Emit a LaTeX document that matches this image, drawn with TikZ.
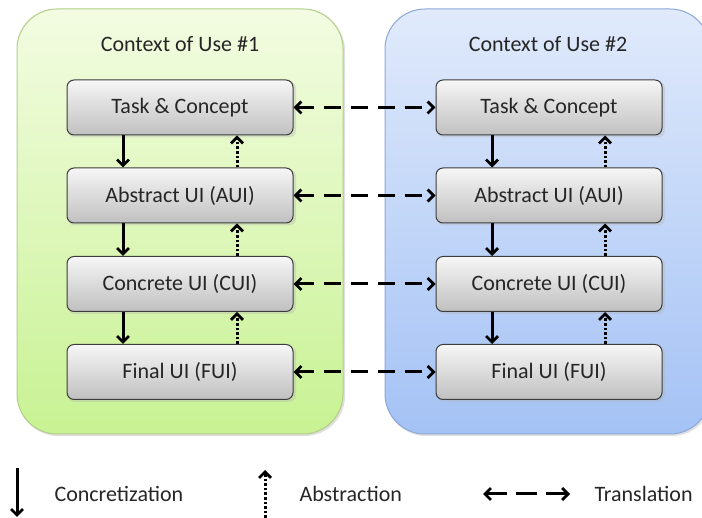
\documentclass[tikz,border=0pt]{standalone}
\usepackage{fontspec}
\setmainfont{Carlito}
\usetikzlibrary{arrows.meta}
\definecolor{gtop}{HTML}{F3FCE2}
\definecolor{gbot}{HTML}{C8F293}
\definecolor{gline}{HTML}{B3CD88}
\definecolor{btop}{HTML}{E0EAFB}
\definecolor{bbot}{HTML}{A4C2F5}
\definecolor{bline}{HTML}{8CA8D8}
\definecolor{boxtop}{HTML}{F6F6F6}
\definecolor{boxbot}{HTML}{C0C0C0}
\definecolor{boxline}{HTML}{3C3C3C}
\tikzset{
  layerbox/.style={draw=boxline, line width=1pt, rounded corners=7pt,
    top color=boxtop, bottom color=boxbot, minimum width=226pt, minimum height=55pt,
    inner sep=0pt, font=\fontsize{22}{26}\selectfont, text=black!85},
  title/.style={font=\fontsize{22}{26}\selectfont, text=black!85},
  legtext/.style={font=\fontsize{22}{26}\selectfont, text=black!85, anchor=west},
  barb/.tip={Straight Barb[length=6pt,width=12pt,line width=2.8pt]},
  conc/.style={-barb, line width=3pt},
  abst/.style={-barb, line width=3pt, dash pattern=on 2.6pt off 2pt},
  trans/.style={barb-barb, line width=3pt, dash pattern=on 17pt off 10pt},
  shadowbox/.style={fill=black!30, rounded corners=7pt}
}
\begin{document}
\begin{tikzpicture}[x=1pt,y=-1pt]
\useasboundingbox (0,0) rectangle (702,518);
% containers
\fill[black!25, opacity=0.5, rounded corners=40pt] (18,11) rectangle (345,436);
\path[top color=gtop, bottom color=gbot, draw=gline, line width=1pt, rounded corners=40pt] (17,9) rectangle (343,434);
\fill[black!25, opacity=0.5, rounded corners=40pt] (386,11) rectangle (712,436);
\path[top color=btop, bottom color=bbot, draw=bline, line width=1pt, rounded corners=40pt] (385,9) rectangle (710,434);
\node[title] (t1) at (180,44) {Context of Use \#1};
\node[title] (t2) at (548,44) {Context of Use \#2};
% shadows
\foreach \y in {107.5,195.5,284,372}{
  \fill[shadowbox, opacity=0.35] (68,\y-26) rectangle (296,\y+30);
  \fill[shadowbox, opacity=0.35] (437,\y-26) rectangle (665,\y+30);
}
% boxes
\node[layerbox] (a1) at (180,107.5) {Task \& Concept};
\node[layerbox] (b1) at (180,195.5) {Abstract UI (AUI)};
\node[layerbox] (c1) at (180,284) {Concrete UI (CUI)};
\node[layerbox] (d1) at (180,372) {Final UI (FUI)};
\node[layerbox] (a2) at (549,107.5) {Task \& Concept};
\node[layerbox] (b2) at (549,195.5) {Abstract UI (AUI)};
\node[layerbox] (c2) at (549,284) {Concrete UI (CUI)};
\node[layerbox] (d2) at (549,372) {Final UI (FUI)};
% concretization / abstraction
\foreach \p/\q in {a/b,b/c,c/d}{
  \draw[conc] (\p1.south -| 123,0) -- (\q1.north -| 123,0);
  \draw[abst] (\q1.north -| 237,0) -- (\p1.south -| 237,0);
  \draw[conc] (\p2.south -| 492,0) -- (\q2.north -| 492,0);
  \draw[abst] (\q2.north -| 605,0) -- (\p2.south -| 605,0);
}
% translation
\foreach \p in {a,b,c,d}{
  \draw[trans] (\p1.east) -- (\p2.west);
}
% legend
\coordinate (l1s) at (17,468);
\coordinate (l1e) at (17,517);
\coordinate (l2s) at (265,518);
\coordinate (l2e) at (265,470);
\coordinate (l3s) at (483,494);
\coordinate (l3e) at (570,494);
\draw[conc] (l1s) -- (l1e);
\draw[abst] (l2s) -- (l2e);
\draw[trans, dash pattern=on 21pt off 9pt] (l3s) -- (l3e);
\node[legtext] (lt1) at (51,494) {Concretization};
\node[legtext] (lt2) at (296,494) {Abstraction};
\node[legtext] (lt3) at (591,494) {Translation};
\end{tikzpicture}
\end{document}
